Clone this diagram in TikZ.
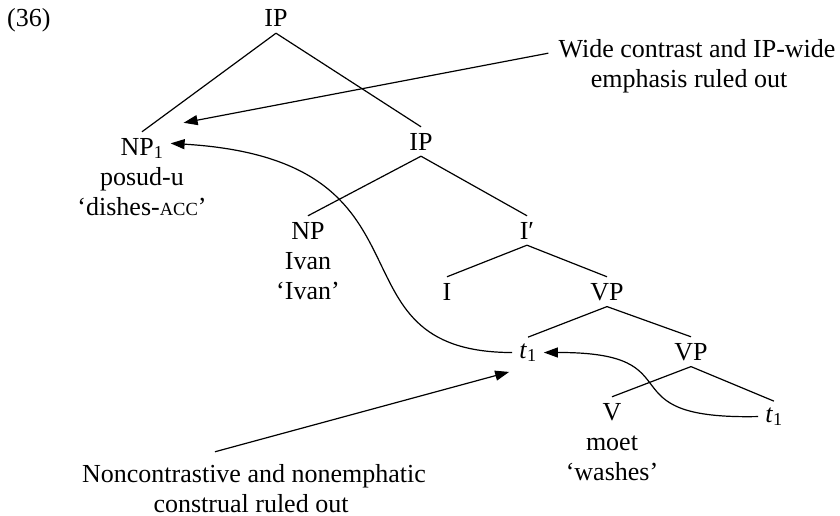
\documentclass[tikz,border=0pt]{standalone}
\usepackage{fontspec}
\setmainfont{Liberation Serif}
\usetikzlibrary{arrows.meta,calc}
\begin{document}
\begin{tikzpicture}[x=1pt,y=-1pt,
  every node/.style={font=\fontsize{26}{30}\selectfont, inner sep=0pt},
  cat/.style={anchor=base, inner xsep=7pt, inner ysep=6pt},
  gloss/.style={anchor=base},
  edge/.style={line width=1.2pt},
  mv/.style={line width=1.2pt, -{Triangle[length=14pt,width=10pt]}}]
\useasboundingbox (0,0) rectangle (840,516);
% labels
\node[gloss, anchor=base west] (ex) at (7,27) {(36)};
\node[cat] (ip) at (276,27) {IP};
\node[cat] (np1) at (142,155) {NP\textsubscript{1}};
\node[gloss] (posud) at (142,185) {posud-u};
\node[gloss] (dishes) at (142,215) {‘dishes-{\fontsize{18.5}{20}\selectfont ACC}’};
\node[cat] (ip2) at (421,150) {IP};
\node[cat] (np) at (308,239) {NP};
\node[gloss] (ivan) at (308,269) {Ivan};
\node[gloss] (ivang) at (308,299) {‘Ivan’};
\node[cat] (ibar) at (527,239) {I′};
\node[cat] (i) at (447,300) {I};
\node[cat] (vp) at (607,300) {VP};
\node[cat] (t1) at (528,358) {\textit{t}\textsubscript{1}};
\node[cat] (vp2) at (691,360) {VP};
\node[cat] (v) at (612,420) {V};
\node[gloss] (moet) at (612,450) {moet};
\node[gloss] (washes) at (612,480) {‘washes’};
\node[cat] (t1b) at (774,422) {\textit{t}\textsubscript{1}};
\node[gloss] (wideA) at (697,58) {Wide contrast and IP-wide};
\node[gloss] (wideB) at (689,88) {emphasis ruled out};
\node[gloss] (nonA) at (254,482) {Noncontrastive and nonemphatic};
\node[gloss] (nonB) at (251,512) {construal ruled out};
% tree edges
\draw[edge] (ip.south) -- (np1.north);
\draw[edge] (ip.south) -- (ip2.north);
\draw[edge] (ip2.south) -- (np.north);
\draw[edge] (ip2.south) -- (ibar.north);
\draw[edge] (ibar.south) -- (i.north);
\draw[edge] (ibar.south) -- (vp.north);
\draw[edge] (vp.south) -- (t1.north);
\draw[edge] (vp.south) -- (vp2.north);
\draw[edge] (vp2.south) -- (v.north);
\draw[edge] (vp2.south) -- (t1b.north);
% movement arrows
\draw[mv] (t1.west) .. controls (320,352) and (450,160) .. ($(np1.east)+(0,-5)$);
\draw[mv] (t1b.west) .. controls (600,420) and (700,352) .. (t1.east);
% annotation arrows
\draw[mv] ($(wideA.west)+(-10,4)$) -- ($(np1.north east)+(13,-9)$);
\draw[mv] ($(nonA.north)+(-39,-12)$) -- ($(t1.south west)+(-3,4)$);
\end{tikzpicture}
\end{document}
